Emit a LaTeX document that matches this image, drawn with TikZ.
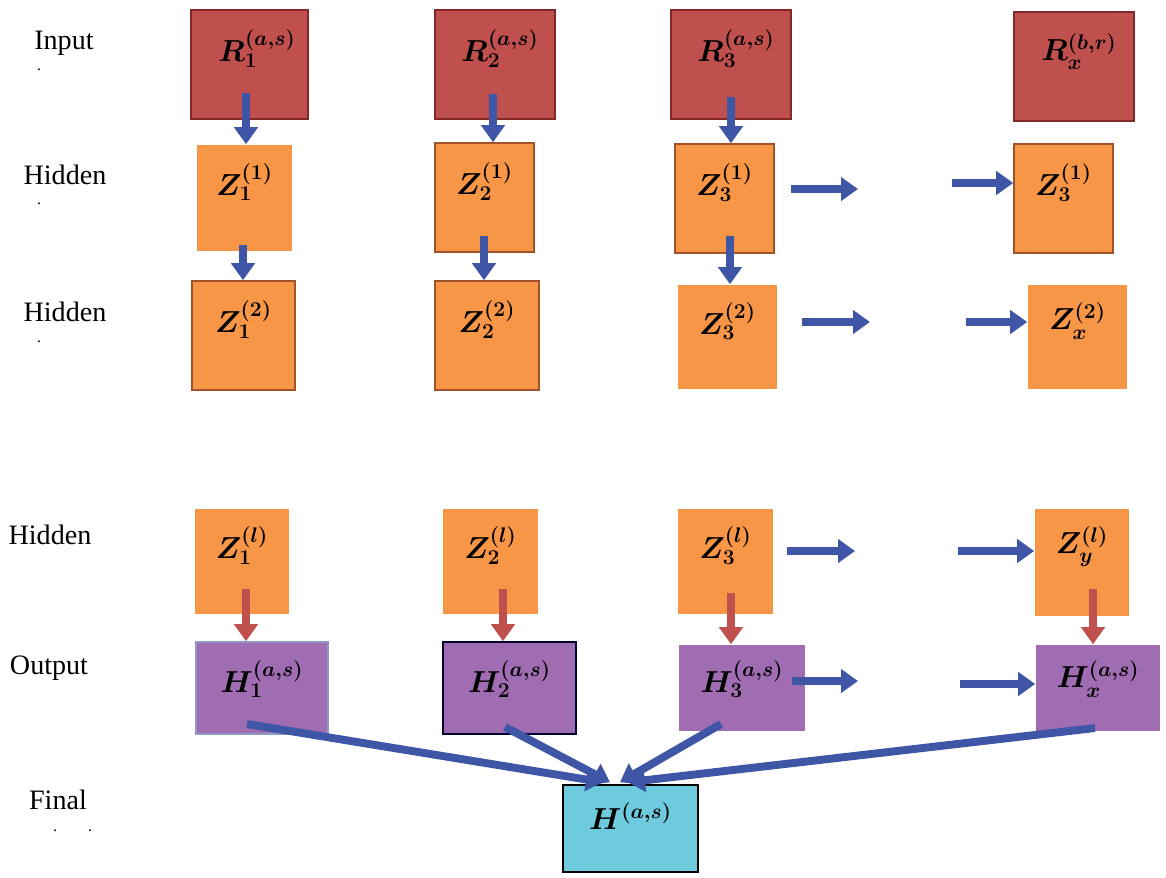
\documentclass[tikz,border=0pt]{standalone}
\usepackage{fontspec}
\setmainfont{Liberation Serif}
\usetikzlibrary{arrows.meta}
\definecolor{rfill}{RGB}{192,80,77}
\definecolor{rline}{RGB}{130,40,40}
\definecolor{zfill}{RGB}{247,150,70}
\definecolor{zline}{RGB}{160,82,40}
\definecolor{hfill}{RGB}{160,108,178}
\definecolor{ffill}{RGB}{110,203,221}
\definecolor{ablue}{RGB}{63,85,165}
\definecolor{ared}{RGB}{192,80,77}
\tikzset{
  cell/.style={inner sep=0pt,line width=0.9pt},
  rcell/.style={cell,fill=rfill,draw=rline},
  zcell/.style={cell,fill=zfill},
  zedge/.style={draw=zline},
  hcell/.style={cell,fill=hfill},
  fcell/.style={cell,fill=ffill,draw=black},
  sym/.style={font=\fontsize{18}{22}\selectfont\boldmath},
  layer/.style={font=\fontsize{16}{19}\selectfont},
  speck/.style={font=\small,inner sep=0pt},
  barrow/.style={draw=ablue,line width=4.5pt,-{Triangle[length=0.34cm,width=0.46cm]}},
  rarrow/.style={barrow,draw=ared},
}
\begin{document}
\begin{tikzpicture}[x=0.02cm,y=-0.02cm]
  \useasboundingbox (0,0) rectangle (1166,877);
  % layer names
  \node[layer] (lin) at (64,43) {Input};
  \node[layer] (lh1) at (65,175) {Hidden};
  \node[layer] (lh2) at (65,312) {Hidden};
  \node[layer] (lhl) at (50,535) {Hidden};
  \node[layer] (lout) at (49,668) {Output};
  \node[layer] (lfin) at (58,800) {Final};
  \node[speck] (d1) at (39,70) {.};
  \node[speck] (d2) at (39,204) {.};
  \node[speck] (d3) at (39,342) {.};
  \node[speck] (d4) at (55,831) {.};
  \node[speck] (d5) at (90,831) {.};
  % input row
  \node[rcell,minimum width=2.34cm,minimum height=2.18cm,
    label={[sym,xshift=0.15cm,yshift=0.32cm]center:$R_1^{(a,s)}$}] (r1) at (249.5,64.5) {};
  \node[rcell,minimum width=2.40cm,minimum height=2.18cm,
    label={[sym,xshift=0.1cm,yshift=0.32cm]center:$R_2^{(a,s)}$}] (r2) at (495,64.5) {};
  \node[rcell,minimum width=2.40cm,minimum height=2.18cm,
    label={[sym,xshift=0.1cm,yshift=0.32cm]center:$R_3^{(a,s)}$}] (r3) at (731,64.5) {};
  \node[rcell,minimum width=2.40cm,minimum height=2.18cm,
    label={[sym,xshift=0.1cm,yshift=0.3cm]center:$R_x^{(b,r)}$}] (rx) at (1074,66.5) {};
  % first hidden row
  \node[zcell,minimum width=1.90cm,minimum height=2.12cm,
    label={[sym,yshift=0.32cm]center:$Z_1^{(1)}$}] (z11) at (244.5,198) {};
  \node[zcell,zedge,minimum width=1.98cm,minimum height=2.18cm,
    label={[sym,yshift=0.32cm]center:$Z_2^{(1)}$}] (z21) at (484.5,197.5) {};
  \node[zcell,zedge,minimum width=1.98cm,minimum height=2.18cm,
    label={[sym,yshift=0.32cm]center:$Z_3^{(1)}$}] (z31) at (724.5,198.5) {};
  \node[zcell,zedge,minimum width=1.98cm,minimum height=2.18cm,
    label={[sym,yshift=0.32cm]center:$Z_3^{(1)}$}] (zx1) at (1063.5,198.5) {};
  % second hidden row
  \node[zcell,zedge,minimum width=2.06cm,minimum height=2.18cm,
    label={[sym,yshift=0.32cm]center:$Z_1^{(2)}$}] (z12) at (243.5,335.5) {};
  \node[zcell,zedge,minimum width=2.08cm,minimum height=2.18cm,
    label={[sym,yshift=0.32cm]center:$Z_2^{(2)}$}] (z22) at (487,335.5) {};
  \node[zcell,minimum width=1.98cm,minimum height=2.08cm,
    label={[sym,yshift=0.32cm]center:$Z_3^{(2)}$}] (z32) at (727.5,337) {};
  \node[zcell,minimum width=1.98cm,minimum height=2.08cm,
    label={[sym,yshift=0.32cm]center:$Z_x^{(2)}$}] (zx2) at (1077.5,337) {};
  % last hidden row
  \node[zcell,minimum width=1.88cm,minimum height=2.10cm,
    label={[sym,yshift=0.32cm]center:$Z_1^{(l)}$}] (zl1) at (242,561.5) {};
  \node[zcell,minimum width=1.90cm,minimum height=2.10cm,
    label={[sym,yshift=0.32cm]center:$Z_2^{(l)}$}] (zl2) at (490.5,561.5) {};
  \node[zcell,minimum width=1.90cm,minimum height=2.10cm,
    label={[sym,yshift=0.32cm]center:$Z_3^{(l)}$}] (zl3) at (725.5,561.5) {};
  \node[zcell,minimum width=1.88cm,minimum height=2.14cm,
    label={[sym,yshift=0.32cm]center:$Z_y^{(l)}$}] (zly) at (1082,562.5) {};
  % output row
  \node[hcell,draw=ablue!60,minimum width=2.64cm,minimum height=1.84cm,
    label={[sym,yshift=0.18cm]center:$H_1^{(a,s)}$}] (h1) at (262,688) {};
  \node[hcell,draw=black!80!blue,minimum width=2.66cm,minimum height=1.84cm,
    label={[sym,yshift=0.18cm]center:$H_2^{(a,s)}$}] (h2) at (509.5,688) {};
  \node[hcell,minimum width=2.52cm,minimum height=1.72cm,
    label={[sym,yshift=0.18cm]center:$H_3^{(a,s)}$}] (h3) at (742,688) {};
  \node[hcell,minimum width=2.48cm,minimum height=1.72cm,
    label={[sym,yshift=0.18cm]center:$H_x^{(a,s)}$}] (hx) at (1098,688) {};
  \node[fcell,minimum width=2.70cm,minimum height=1.74cm,
    label={[sym,yshift=0.24cm]center:$H^{(a,s)}$}] (fin) at (630.5,828.5) {};
  % arrow tails
  \coordinate (r1o) at (246,93);
  \coordinate (r2o) at (493,94);
  \coordinate (r3o) at (731,97);
  \coordinate (z11o) at (243,245);
  \coordinate (z21o) at (484,236);
  \coordinate (z31o) at (730,236);
  \coordinate (zl1o) at (246,589);
  \coordinate (zl2o) at (503,589);
  \coordinate (zl3o) at (731,593);
  \coordinate (zlyo) at (1093,589);
  \draw[barrow] (r1o) -- (r1o |- z11.north);
  \draw[barrow] (r2o) -- (r2o |- z21.north);
  \draw[barrow] (r3o) -- (r3o |- z31.north);
  \draw[barrow] (z11o) -- (z11o |- z12.north);
  \draw[barrow] (z21o) -- (z21o |- z22.north);
  \draw[barrow] (z31o) -- (z31o |- z32.north);
  \draw[rarrow] (zl1o) -- (zl1o |- h1.north);
  \draw[rarrow] (zl2o) -- (zl2o |- h2.north);
  \draw[rarrow] (zl3o) -- (zl3o |- h3.north);
  \draw[rarrow] (zlyo) -- (zlyo |- hx.north);
  % sideways arrows
  \coordinate (s1a) at (791,189);  \coordinate (s1b) at (858,189);
  \coordinate (s2a) at (952,183);
  \coordinate (s3a) at (802,322);  \coordinate (s3b) at (870,322);
  \coordinate (s4a) at (966,322);
  \coordinate (s5a) at (787,551);  \coordinate (s5b) at (855,551);
  \coordinate (s6a) at (958,551);
  \coordinate (s7a) at (792,681);  \coordinate (s7b) at (858,681);
  \coordinate (s8a) at (960,684);
  \draw[barrow] (s1a) -- (s1b);
  \draw[barrow] (s2a) -- (s2a -| zx1.west);
  \draw[barrow] (s3a) -- (s3b);
  \draw[barrow] (s4a) -- (s4a -| zx2.west);
  \draw[barrow] (s5a) -- (s5b);
  \draw[barrow] (s6a) -- (s6a -| zly.west);
  \draw[barrow] (s7a) -- (s7b);
  \draw[barrow] (s8a) -- (s8a -| hx.west);
  % into the final box
  \coordinate (h1o) at (247,724);
  \coordinate (h2o) at (505,727);
  \coordinate (h3o) at (721,724);
  \coordinate (hxo) at (1095,728);
  \draw[barrow] (h1o) -- ([xshift=-0.55cm,yshift=0.04cm]fin.north);
  \draw[barrow] (h2o) -- ([xshift=-0.41cm,yshift=0.04cm]fin.north);
  \draw[barrow] (h3o) -- ([xshift=-0.21cm,yshift=0.04cm]fin.north);
  \draw[barrow] (hxo) -- ([xshift=-0.05cm,yshift=0.04cm]fin.north);
\end{tikzpicture}
\end{document}
